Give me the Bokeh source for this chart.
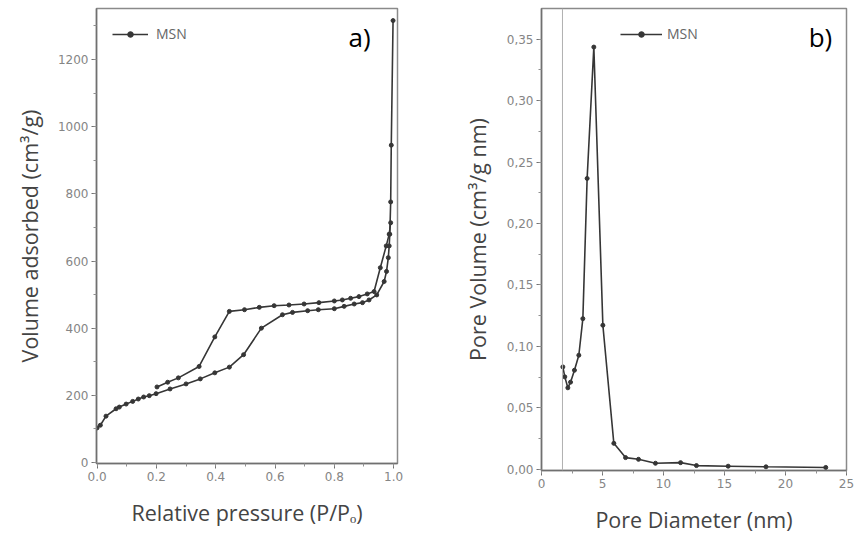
from bokeh.plotting import figure
from bokeh.layouts import row
from bokeh.models import (SingleIntervalTicker, CustomJSTickFormatter, Range1d,
                          Legend, LegendItem, Span, Label)
from bokeh.embed import file_html
from bokeh.resources import INLINE

# ---- a) N2 isotherm (adsorption / desorption branches) ----
ads_p = [0.0, 0.011, 0.03, 0.064, 0.075, 0.098, 0.12, 0.139, 0.157, 0.176, 0.199,
         0.246, 0.30, 0.348, 0.397, 0.446, 0.494, 0.554, 0.625, 0.659, 0.71, 0.746,
         0.80, 0.833, 0.867, 0.895, 0.917, 0.943, 0.968, 0.976, 0.982, 0.985, 0.987,
         0.99, 0.992, 0.998]
ads_v = [103, 111, 138, 160, 165, 174, 182, 189, 195, 199, 205,
         219, 234, 249, 267, 284, 321, 400, 440, 447, 452, 455,
         458, 465, 472, 476, 484, 499, 539, 569, 610, 645, 680,
         776, 945, 1316]
des_p = [0.99, 0.985, 0.975, 0.955, 0.934, 0.911, 0.883, 0.855, 0.827, 0.80, 0.748,
         0.698, 0.647, 0.597, 0.547, 0.497, 0.446, 0.397, 0.344, 0.274, 0.238, 0.202]
des_v = [714, 680, 645, 580, 509, 502, 494, 489, 484, 481, 476,
         472, 469, 467, 462, 455, 450, 374, 286, 252, 239, 225]

# ---- b) pore size distribution ----
pd_d = [1.75, 1.91, 2.16, 2.38, 2.7, 3.06, 3.39, 3.74, 4.29, 5.03, 5.93, 6.89,
        7.95, 9.34, 11.4, 12.7, 15.3, 18.4, 23.3]
pd_v = [0.0833, 0.0752, 0.0663, 0.0709, 0.0806, 0.0928, 0.1226, 0.2367, 0.3436,
        0.1172, 0.0211, 0.0095, 0.0081, 0.0049, 0.0054, 0.0030, 0.0025, 0.0020, 0.0015]
ref_d = 1.72

LINE = "#363636"
FONT = "Open Sans"


def style(p):
    p.toolbar_location = None
    p.frame_align = False
    p.xgrid.visible = False
    p.ygrid.visible = False
    p.outline_line_color = "#8a8a8a"
    p.outline_line_width = 1.5
    p.background_fill_color = "white"
    p.border_fill_color = "white"
    for ax in (p.xaxis[0], p.yaxis[0]):
        ax.axis_line_color = "#707070"
        ax.axis_line_width = 1.5
        ax.major_tick_line_color = "#707070"
        ax.minor_tick_line_color = "#909090"
        ax.major_tick_out = 5
        ax.major_tick_in = 0
        ax.minor_tick_out = 3
        ax.minor_tick_in = 0
        ax.major_label_text_font = "DejaVu Sans"
        ax.major_label_text_font_size = "12px"
        ax.major_label_text_color = "#858585"
        ax.major_label_standoff = 3
        ax.axis_label_text_font = FONT
        ax.axis_label_text_font_size = "21.5px"
        ax.axis_label_text_font_style = "normal"
        ax.axis_label_text_color = "#444444"


# ---------- figure a ----------
p1 = figure(width=430, height=537, output_backend="svg", toolbar_location=None,
            x_range=Range1d(-0.002, 1.013), y_range=Range1d(-3, 1352),
            min_border_left=96, min_border_right=33, min_border_top=8,
            min_border_bottom=74)
style(p1)
p1.xaxis.ticker = SingleIntervalTicker(interval=0.2, num_minor_ticks=2)
p1.yaxis.ticker = SingleIntervalTicker(interval=200, num_minor_ticks=2)
p1.xaxis.formatter = CustomJSTickFormatter(code="return tick.toFixed(1);")
p1.yaxis.formatter = CustomJSTickFormatter(code="return tick.toFixed(0);")
p1.xaxis.axis_label = "Relative pressure (P/Pₒ)"
p1.yaxis.axis_label = "Volume adsorbed (cm³/g)"
p1.xaxis.axis_label_standoff = 14
p1.yaxis.axis_label_standoff = 11

la = p1.line(ads_p, ads_v, line_color=LINE, line_width=1.6)
sa = p1.scatter(ads_p, ads_v, size=4, color=LINE)
p1.line(des_p, des_v, line_color=LINE, line_width=1.6)
p1.scatter(des_p, des_v, size=4, color=LINE)

leg1 = Legend(items=[LegendItem(label="MSN", renderers=[la, sa])],
              location=(16, 420), padding=0, margin=0, glyph_width=36,
              glyph_height=14, label_standoff=8, label_text_font=FONT,
              label_text_font_size="14px", label_text_color="#666666",
              background_fill_alpha=0, border_line_alpha=0)
p1.add_layout(leg1)
p1.add_layout(Label(x=0.848, y=1266, text="a)", text_font=FONT, text_font_size="26px",
                    text_color="black", text_baseline="middle", text_align="left"))

# ---------- figure b ----------
p2 = figure(width=428, height=537, output_backend="svg", toolbar_location=None,
            x_range=Range1d(0, 25), y_range=Range1d(-0.001, 0.375),
            min_border_left=111, min_border_right=12, min_border_top=8,
            min_border_bottom=67)
style(p2)
p2.xaxis.ticker = SingleIntervalTicker(interval=5, num_minor_ticks=2)
p2.yaxis.ticker = SingleIntervalTicker(interval=0.05, num_minor_ticks=2)
p2.xaxis.formatter = CustomJSTickFormatter(code="return tick.toFixed(0);")
p2.yaxis.formatter = CustomJSTickFormatter(code="return tick.toFixed(2).replace('.', ',');")
p2.xaxis.axis_label = "Pore Diameter (nm)"
p2.yaxis.axis_label = "Pore Volume (cm³/g nm)"
p2.xaxis.axis_label_standoff = 14
p2.yaxis.axis_label_standoff = 12

p2.add_layout(Span(location=ref_d, dimension="height", line_color="#b0b0b0", line_width=1))
lb = p2.line(pd_d, pd_v, line_color=LINE, line_width=1.6)
sb = p2.scatter(pd_d, pd_v, size=4, color=LINE)

leg2 = Legend(items=[LegendItem(label="MSN", renderers=[lb, sb])],
              location=(79, 427), padding=0, margin=0, glyph_width=42,
              glyph_height=14, label_standoff=5, label_text_font=FONT,
              label_text_font_size="14px", label_text_color="#666666",
              background_fill_alpha=0, border_line_alpha=0)
p2.add_layout(leg2)
p2.add_layout(Label(x=21.9, y=0.3515, text="b)", text_font=FONT, text_font_size="26px",
                    text_color="black", text_baseline="middle", text_align="left"))

layout = row(p1, p2, spacing=0)
open("out.html", "w").write(file_html(layout, INLINE))
